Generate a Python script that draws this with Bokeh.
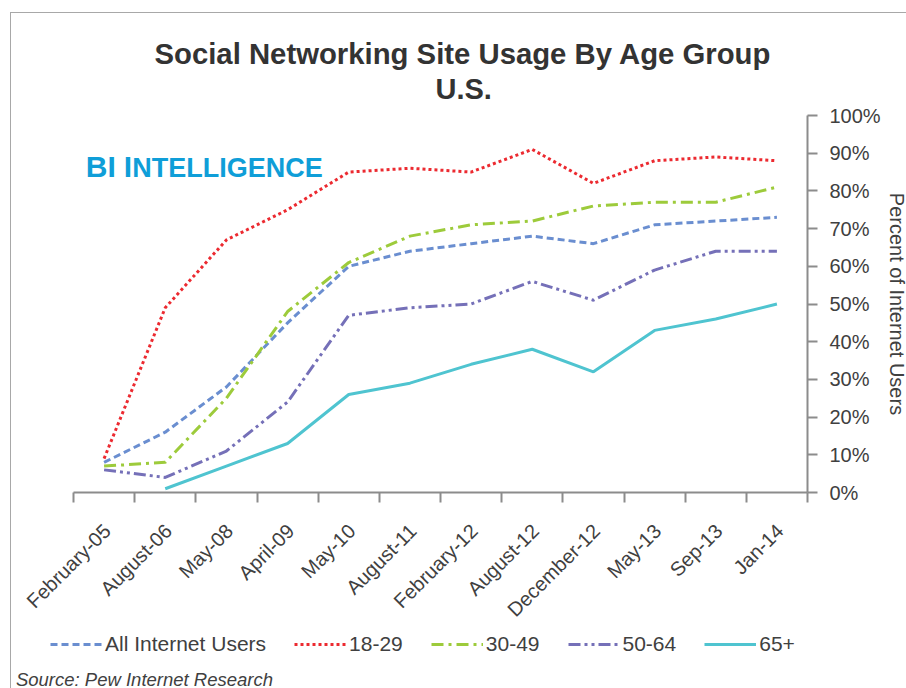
import math
from bokeh.plotting import figure
from bokeh.layouts import column
from bokeh.models import Range1d, FixedTicker, Legend, LegendItem, Label, Title
from bokeh.embed import file_html
from bokeh.resources import INLINE

# ---- data ----
categories = ["February-05", "August-06", "May-08", "April-09", "May-10", "August-11",
              "February-12", "August-12", "December-12", "May-13", "Sep-13", "Jan-14"]
all_users = [8, 16, 28, 45, 60, 64, 66, 68, 66, 71, 72, 73]
age_18_29 = [9, 49, 67, 75, 85, 86, 85, 91, 82, 88, 89, 88]
age_30_49 = [7, 8, 25, 48, 61, 68, 71, 72, 76, 77, 77, 81]
age_50_64 = [6, 4, 11, 24, 47, 49, 50, 56, 51, 59, 64, 64]
age_65_plus = [float("nan"), 1, 7, 13, 26, 29, 34, 38, 32, 43, 46, 50]
series_names = ["All Internet Users", "18-29", "30-49", "50-64", "65+"]
y_tick_values = [0, 10, 20, 30, 40, 50, 60, 70, 80, 90, 100]
y_tick_labels = ["0%", "10%", "20%", "30%", "40%", "50%", "60%", "70%", "80%", "90%", "100%"]

FONT = "Liberation Sans"
TXT = "#404040"
AX = "#8c8c8c"
W = 895
LEFT_GAP = 62          # empty space left of the category axis
AXIS_W = 734           # width of the category axis
n = len(categories)
px_per_cat = AXIS_W / n

xs = list(range(n))
label_shift = 0.05  # category labels sit slightly right of the category centre
label_pos = [i + label_shift for i in xs]

p = figure(frame_width=LEFT_GAP + AXIS_W, frame_height=377, output_backend="svg",
           toolbar_location=None,
           x_range=Range1d(-0.5 - LEFT_GAP / px_per_cat, n - 0.5), y_range=Range1d(0, 100),
           y_axis_location="right",
           min_border_left=0, min_border_right=99, min_border_top=102, min_border_bottom=127)
p.outline_line_color = None
p.xgrid.visible = False
p.ygrid.visible = False
p.background_fill_color = "white"
p.border_fill_color = "white"

# x axis: ticks at category boundaries (minor), labels at category centres
xa = p.xaxis[0]
xa.bounds = (-0.5, n - 0.5)
xa.ticker = FixedTicker(ticks=label_pos, minor_ticks=[i - 0.5 for i in range(n + 1)])
xa.major_label_overrides = {pos: c for pos, c in zip(label_pos, categories)}
xa.major_label_orientation = math.pi / 4
xa.major_tick_line_color = None
xa.major_tick_out = 0
xa.major_tick_in = 0
xa.minor_tick_line_color = AX
xa.minor_tick_line_width = 2
xa.minor_tick_out = 10
xa.minor_tick_in = 0
xa.axis_line_color = AX
xa.axis_line_width = 2
xa.major_label_text_font = FONT
xa.major_label_text_font_size = "20px"
xa.major_label_text_color = TXT
xa.major_label_standoff = 25

ya = p.yaxis[0]
ya.ticker = FixedTicker(ticks=y_tick_values)
ya.major_label_overrides = {v: l for v, l in zip(y_tick_values, y_tick_labels)}
ya.minor_tick_line_color = None
ya.major_tick_line_color = AX
ya.major_tick_line_width = 2
ya.major_tick_out = 10
ya.major_tick_in = 0
ya.axis_line_color = AX
ya.axis_line_width = 2
ya.major_label_text_font = FONT
ya.major_label_text_font_size = "20px"
ya.major_label_text_color = TXT
ya.major_label_standoff = 12
ya.axis_label = "Percent of Internet Users"
ya.axis_label_text_font = FONT
ya.axis_label_text_font_size = "20px"
ya.axis_label_text_font_style = "normal"
ya.axis_label_text_color = TXT
ya.axis_label_standoff = 2

styles = [
    ("#6a8ed0", "7 4"),
    ("#ec2a30", "3 3"),
    ("#9dcb3b", "12 5 3 5"),
    ("#7570b8", "12 4 3 4 3 4"),
    ("#4fc4d0", "solid"),
]
data = [all_users, age_18_29, age_30_49, age_50_64, age_65_plus]
for name, ys, (col, dash) in zip(series_names, data, styles):
    p.line(xs, ys, line_color=col, line_width=3, line_dash=dash)

p.add_layout(Title(text="U.S.", text_font=FONT, text_font_size="29px", text_font_style="bold",
                   text_color="#333333", align="left", offset=LEFT_GAP + 362, standoff=22), "above")
p.add_layout(Title(text="Social Networking Site Usage By Age Group", text_font=FONT,
                   text_font_size="29.3px", text_font_style="bold", text_color="#333333",
                   align="left", offset=LEFT_GAP + 81, standoff=-20), "above")

# BI Intelligence logo
logo = "#0f9ed8"
p.add_layout(Label(x=-0.30, y=86.4, text="BI", text_font=FONT, text_font_size="30px",
                   text_font_style="bold", text_color=logo, text_baseline="middle"))
p.add_layout(Label(x=0.32, y=86.4, text="I", text_font=FONT, text_font_size="30px",
                   text_font_style="bold", text_color=logo, text_baseline="middle"))
p.add_layout(Label(x=0.46, y=86.1, text="NTELLIGENCE", text_font=FONT, text_font_size="27px",
                   text_font_style="bold", text_color=logo, text_baseline="middle"))

# ---- legend + source strip below the chart ----
H2 = 59
p2 = figure(width=W, height=H2, output_backend="svg", toolbar_location=None,
            x_range=Range1d(0, W), y_range=Range1d(0, H2),
            x_axis_type=None, y_axis_type=None, min_border=0)
p2.outline_line_color = None
p2.background_fill_color = "white"
p2.border_fill_color = "white"
items = []
for name, ys, (col, dash) in zip(series_names, data, styles):
    r = p2.line(xs, ys, line_color=col, line_width=3, line_dash=dash, visible=False)
    items.append(LegendItem(label=name, renderers=[r]))
legend = Legend(items=items, orientation="horizontal", location=(39, 34),
                label_text_font=FONT, label_text_font_size="21px", label_text_color=TXT,
                glyph_width=52, glyph_height=20, label_standoff=3, spacing=28,
                border_line_color=None, background_fill_alpha=0, padding=0, margin=0,
                inactive_fill_alpha=0)
p2.add_layout(legend, "center")
p2.add_layout(Label(x=5, y=11, text="Source: Pew Internet Research", text_font=FONT,
                    text_font_size="18.5px", text_font_style="italic", text_color=TXT,
                    text_baseline="middle"))

layout = column(p, p2, spacing=0)
layout.styles = {"margin-left": "10px", "margin-top": "12px",
                 "border-top": "1px solid #a8a8a8", "border-left": "1px solid #a8a8a8"}

open("out.html", "w").write(file_html(layout, INLINE))
